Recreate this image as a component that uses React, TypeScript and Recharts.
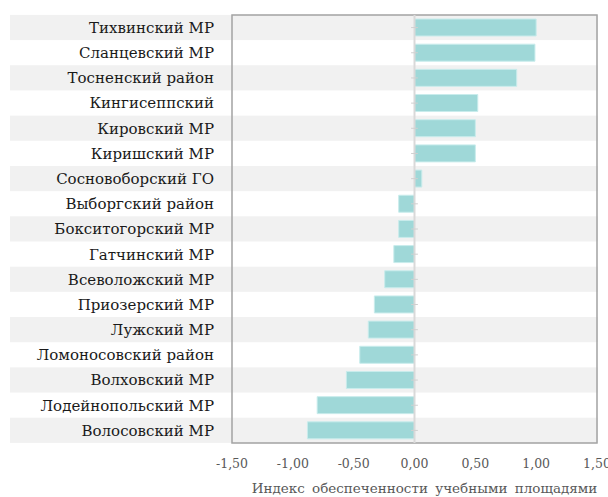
import React from 'react';
import { BarChart, Bar, XAxis, YAxis, ReferenceLine, ReferenceArea } from 'recharts';

const categories = [
  'Тихвинский МР',
  'Сланцевский МР',
  'Тосненский район',
  'Кингисеппский',
  'Кировский МР',
  'Киришский МР',
  'Сосновоборский ГО',
  'Выборгский район',
  'Бокситогорский МР',
  'Гатчинский  МР',
  'Всеволожский   МР',
  'Приозерский МР',
  'Лужский МР',
  'Ломоносовский район',
  'Волховский МР',
  'Лодейнопольский МР',
  'Волосовский МР',
];

const values = [1.0, 0.99, 0.84, 0.52, 0.5, 0.5, 0.06, -0.13, -0.13, -0.17, -0.245, -0.33, -0.38, -0.45, -0.56, -0.8, -0.88];

const xTicks = [-1.5, -1.0, -0.5, 0, 0.5, 1.0, 1.5];

const axisTitle = 'Индекс обеспеченности учебными площадями';

const data = categories.map((name, i) => ({ name, value: values[i] }));

const FONT = '"DejaVu Serif", serif';
const BAND = 428 / 17;

const BandBackground = (props: any) => {
  const { y, height, index } = props;
  if (index % 2 !== 0) return <g />;
  const cy = y + height / 2;
  return <rect x={10} y={cy - BAND / 2} width={588} height={BAND} fill="#f1f1f1" />;
};

export default function App() {
  return (
    <div style={{ position: 'absolute', left: 0, top: 0 }}>
      <BarChart
        width={608}
        height={497}
        data={data}
        layout="vertical"
        margin={{ top: 15, right: 11, bottom: 0, left: 10 }}
        barSize={17}
      >
        <XAxis
          type="number"
          domain={[-1.5, 1.5]}
          ticks={xTicks}
          allowDataOverflow
          axisLine={false}
          tickLine={false}
          tickSize={0}
          tickMargin={16}
          height={54}
          tick={{ fontFamily: FONT, fontSize: 12.5, fill: '#595959' }}
          tickFormatter={(v: number) => v.toFixed(2).replace('.', ',')}
          label={{
            value: axisTitle,
            position: 'insideBottom',
            offset: 4,
            dx: 10,
            style: { fontFamily: FONT, fontSize: 13.5, fill: '#595959', wordSpacing: 3 },
          }}
        />
        <YAxis
          type="category"
          dataKey="name"
          width={222}
          axisLine={false}
          tickLine={false}
          tickSize={0}
          tickMargin={18}
          interval={0}
          tick={{ fontFamily: FONT, fontSize: 15, fill: '#1a1a1a' }}
        />
        <Bar
          dataKey="value"
          fill="#9fd8d8"
          stroke="#c9ecec"
          strokeWidth={1}
          isAnimationActive={false}
          background={BandBackground}
        />
        <ReferenceLine x={0} stroke="#d9d9d9" strokeWidth={2} />
        {categories.map((c) => (
          <ReferenceLine
            key={c}
            segment={[{ x: -0.028, y: c }, { x: 0.028, y: c }]}
            stroke="#d0d0d0"
            strokeWidth={1}
          />
        ))}
        <ReferenceArea x1={-1.5} x2={1.5} fill="none" fillOpacity={0} stroke="#a3a3a3" strokeWidth={1.5} ifOverflow="visible" />
      </BarChart>
    </div>
  );
}
